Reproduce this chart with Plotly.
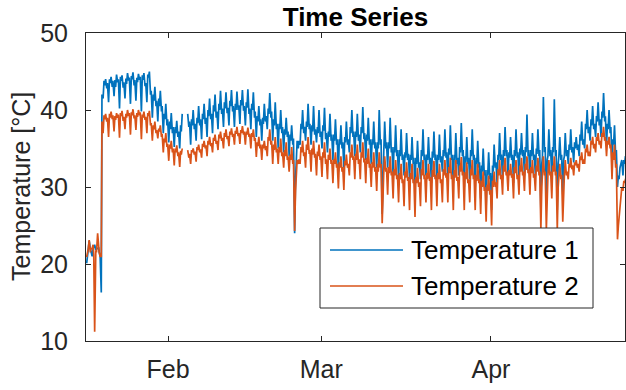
import datetime
import plotly.graph_objects as go

# ---- data: six readings per day ----
start_day = "2019-01-17"
reading_hours = [3, 7, 10, 14, 19, 22]

# Temperature 1
t1_03h = [20.1, 21.0, 22.0, 41.5, 41.0, 41.8, 40.2, 41.5, 40.8, 41.2,
          39.8, 41.0, 39.0, 38.5, 37.0, 35.8, 35.2, 35.0, None, 35.5,
          36.0, 36.2, 36.5, 37.0, 37.5, 37.8, 38.0, 37.8, 38.2, 38.0,
          37.5, 36.5, 36.0, 37.5, 36.0, 35.0, 34.5, 34.0, 24.0, 35.5,
          36.0, 35.5, 35.8, 35.0, 34.5, 33.5, 32.0, 32.5, 34.5, 34.0,
          34.5, 33.5, 33.0, 32.5, 26.5, 32.5, 31.5, 31.0, 31.5, 31.0,
          30.0, 31.0, 31.5, 30.5, 31.0, 32.0, 31.0, 30.5, 31.5, 30.0,
          31.0, 30.0, 28.5, 27.5, 27.0, 30.5, 31.0, 31.5, 30.5, 31.0,
          31.5, 31.0, 31.5, 27.0, 28.0, 31.0, 27.0, 29.0, 33.0, 33.2,
          34.0, 35.0, 36.0, 36.5, 36.5, 35.5, 33.0, 30.0, 31.5]
t1_07h = [21.0, 22.0, 22.2, 43.8, 44.0, 43.9, 44.3, 44.1, 44.4, 44.2,
          44.5, 44.6, 42.0, 41.5, 39.5, 38.5, 37.8, 38.0, None, 38.8,
          39.0, 39.5, 40.0, 40.6, 40.8, 41.0, 41.2, 40.8, 41.3, 41.0,
          40.8, 39.2, 39.0, 40.2, 38.8, 38.2, 37.5, 36.8, 31.0, 38.2,
          38.5, 38.0, 37.8, 38.0, 37.2, 36.8, 36.2, 36.5, 37.8, 37.2,
          37.8, 36.8, 36.2, 35.8, 33.0, 35.8, 35.2, 34.8, 34.5, 34.2,
          33.8, 34.8, 34.2, 34.6, 34.2, 34.8, 35.0, 34.2, 35.2, 34.0,
          34.8, 33.8, 32.8, 32.2, 32.8, 34.2, 34.8, 34.5, 34.8, 35.0,
          35.2, 34.8, 35.0, 33.0, 33.5, 35.2, 33.0, 33.5, 35.5, 35.8,
          36.8, 38.2, 38.8, 39.2, 39.8, 38.2, 36.2, 31.5, 33.5]
t1_10h = [21.5, 22.3, 21.5, 43.2, 43.5, 43.0, 43.8, 43.4, 44.0, 43.6,
          43.9, 44.2, 41.2, 40.5, 38.8, 37.5, 37.0, 37.2, None, 38.0,
          38.3, 38.8, 39.2, 39.8, 40.0, 40.2, 40.5, 40.0, 40.6, 40.3,
          40.0, 38.5, 38.2, 39.5, 38.0, 37.5, 36.8, 36.0, 33.0, 37.5,
          37.8, 37.2, 37.0, 37.3, 36.5, 36.0, 35.5, 35.8, 37.0, 36.5,
          37.0, 36.0, 35.5, 35.0, 34.5, 35.0, 34.5, 34.0, 33.8, 33.5,
          33.0, 34.0, 33.5, 33.8, 33.5, 34.0, 34.2, 33.5, 34.5, 33.2,
          34.0, 33.0, 32.0, 31.5, 32.0, 33.5, 34.0, 33.8, 34.0, 34.2,
          34.5, 34.0, 34.3, 34.0, 34.0, 34.5, 34.0, 34.0, 34.8, 35.0,
          36.0, 37.5, 38.0, 38.5, 39.0, 37.5, 35.5, 31.0, 33.0]
t1_14h = [23.0, 22.5, 21.0, 44.0, 44.3, 44.6, 44.5, 44.8, 44.9, 44.7,
          44.8, 45.0, 43.0, 42.5, 40.8, 39.6, 38.6, 39.5, 39.5, 40.0,
          40.5, 40.8, 41.5, 42.0, 42.5, 42.3, 42.6, 42.4, 42.6, 42.7,
          42.3, 40.5, 40.8, 42.2, 41.0, 40.0, 39.0, 38.0, 36.0, 40.0,
          40.8, 40.5, 40.0, 40.3, 39.5, 38.8, 38.0, 38.5, 40.0, 39.5,
          40.4, 39.0, 38.5, 40.0, 38.5, 39.0, 38.0, 37.5, 37.0, 36.5,
          36.0, 37.5, 36.5, 37.2, 36.8, 37.5, 38.0, 37.0, 38.3, 36.5,
          37.5, 36.0, 35.0, 34.5, 35.5, 37.0, 37.8, 36.5, 37.5, 37.0,
          39.4, 37.0, 37.5, 41.7, 37.5, 41.4, 36.5, 37.0, 37.5, 36.5,
          38.5, 40.0, 40.5, 41.0, 42.2, 40.0, 38.0, 32.5, 34.0]
t1_19h = [22.0, 21.8, 16.3, 42.8, 43.0, 43.6, 42.9, 43.8, 43.2, 43.9,
          43.1, 42.0, 40.5, 39.8, 38.0, 37.0, 36.5, None, 37.8, 37.5,
          38.0, 38.2, 38.8, 39.0, 39.5, 39.6, 39.8, 40.0, 39.9, 39.5,
          39.0, 38.0, 38.5, 39.0, 37.5, 37.0, 36.5, 35.5, 35.0, 37.0,
          37.5, 36.8, 36.5, 36.2, 36.0, 35.5, 35.0, 35.5, 36.5, 36.0,
          36.2, 35.5, 35.0, 35.5, 35.0, 34.5, 34.0, 33.5, 33.5, 33.0,
          32.5, 33.5, 33.0, 33.5, 33.2, 33.8, 33.5, 33.0, 34.0, 33.0,
          33.5, 32.5, 31.5, 31.0, 32.5, 33.5, 34.0, 33.5, 33.8, 34.0,
          34.0, 33.5, 34.0, 34.5, 34.0, 34.0, 33.5, 34.0, 34.5, 34.8,
          35.5, 37.0, 37.5, 38.0, 38.5, 37.0, 34.0, 33.0, 33.5]
t1_22h = [21.5, 22.0, 42.0, 43.5, 43.8, 44.0, 43.6, 44.2, 43.9, 44.3,
          43.5, 42.5, 41.2, 40.5, 38.8, 37.8, 37.2, None, 38.5, 38.2,
          38.8, 39.0, 39.5, 39.8, 40.2, 40.3, 40.5, 40.6, 40.5, 40.2,
          39.8, 38.8, 39.2, 39.8, 38.2, 37.8, 37.2, 36.3, 36.0, 37.8,
          38.2, 37.5, 37.2, 37.0, 36.8, 36.2, 35.8, 36.2, 37.2, 36.8,
          37.0, 36.2, 35.8, 36.2, 35.8, 35.2, 34.8, 34.2, 34.3, 33.8,
          33.2, 34.2, 33.8, 34.2, 34.0, 34.5, 34.2, 33.8, 34.8, 33.8,
          34.2, 33.2, 32.2, 31.8, 33.2, 34.2, 34.8, 34.2, 34.5, 34.8,
          34.8, 34.2, 34.8, 35.2, 34.8, 34.8, 34.2, 34.8, 35.2, 35.5,
          36.2, 37.8, 38.2, 38.8, 39.2, 37.8, 34.8, 33.5, 34.0]

# Temperature 2
t2_03h = [20.9, 22.0, 24.0, 37.0, 36.5, 37.2, 36.4, 37.5, 36.8, 37.4,
          36.2, 37.0, 36.0, 36.3, 34.5, 33.4, 32.8, 32.6, None, 33.0,
          33.3, 33.8, 34.0, 34.5, 34.8, 35.0, 35.3, 35.5, 35.6, 35.5,
          35.0, 33.9, 33.5, 34.0, 33.0, 33.0, 32.5, 32.0, 24.3, 33.0,
          32.5, 32.0, 31.5, 31.3, 31.0, 30.5, 29.8, 29.6, 31.5, 31.0,
          31.0, 30.5, 30.0, 29.5, 25.3, 29.0, 28.5, 28.0, 27.5, 27.0,
          26.1, 27.5, 28.0, 27.0, 27.5, 28.0, 28.0, 27.0, 28.5, 27.0,
          28.0, 27.0, 26.5, 25.5, 25.0, 28.5, 29.0, 29.5, 28.5, 29.0,
          29.5, 29.0, 29.5, 24.5, 24.5, 28.5, 24.5, 25.5, 31.0, 31.5,
          32.0, 33.0, 34.0, 34.5, 35.0, 34.0, 31.0, 23.2, 29.5]
t2_07h = [21.5, 22.5, 22.0, 39.3, 39.5, 39.2, 39.6, 39.5, 39.7, 39.6,
          39.4, 39.6, 38.0, 37.6, 36.3, 35.5, 35.0, 34.7, None, 34.8,
          35.2, 35.6, 36.0, 36.4, 36.8, 37.0, 37.2, 37.3, 37.4, 37.2,
          37.0, 35.8, 35.5, 36.5, 35.5, 35.2, 34.8, 34.2, 29.5, 35.2,
          35.5, 35.0, 34.6, 34.5, 34.2, 33.6, 33.2, 33.4, 34.5, 34.3,
          34.5, 33.8, 33.2, 33.0, 31.0, 32.6, 32.3, 31.8, 32.0, 31.8,
          31.3, 32.3, 31.8, 32.2, 31.8, 32.3, 32.6, 32.2, 32.8, 31.9,
          32.3, 31.6, 30.8, 30.3, 30.8, 32.3, 32.8, 32.2, 32.6, 32.8,
          33.0, 32.6, 32.8, 30.0, 30.5, 32.8, 30.0, 30.5, 33.0, 33.2,
          34.0, 35.0, 36.0, 36.5, 37.0, 36.0, 34.5, 25.0, 30.8]
t2_10h = [22.0, 21.2, 21.5, 38.8, 39.0, 38.7, 39.2, 39.0, 39.3, 39.1,
          39.0, 39.2, 37.5, 37.2, 35.8, 35.0, 34.5, 34.2, None, 34.5,
          34.8, 35.2, 35.5, 36.0, 36.3, 36.5, 36.8, 36.9, 37.0, 36.8,
          36.5, 35.3, 35.0, 36.0, 34.8, 34.5, 34.0, 33.5, 31.0, 34.5,
          34.8, 34.2, 34.0, 33.8, 33.5, 33.0, 32.5, 32.8, 33.8, 33.5,
          33.8, 33.0, 32.5, 32.0, 32.0, 31.8, 31.5, 31.0, 31.2, 31.0,
          30.5, 31.5, 31.0, 31.3, 31.0, 31.5, 31.8, 31.2, 32.0, 31.0,
          31.5, 30.8, 30.0, 29.5, 30.0, 31.5, 32.0, 31.5, 31.8, 32.0,
          32.2, 31.8, 32.0, 31.5, 31.5, 32.0, 31.5, 31.5, 32.5, 32.8,
          33.5, 34.5, 35.5, 36.0, 36.5, 35.5, 33.5, 26.0, 30.5]
t2_14h = [23.1, 11.2, 21.0, 39.5, 39.8, 39.6, 39.9, 40.0, 40.1, 40.0,
          39.8, 39.9, 38.5, 38.0, 37.0, 36.0, 35.4, 35.0, 34.8, 35.0,
          35.5, 36.0, 36.5, 36.8, 37.2, 37.5, 37.6, 37.8, 37.9, 37.7,
          37.5, 36.5, 36.0, 37.5, 36.5, 36.3, 35.8, 35.2, 33.5, 36.0,
          36.5, 36.0, 35.5, 35.8, 35.0, 34.5, 34.0, 34.2, 35.5, 35.5,
          35.8, 35.0, 34.5, 34.5, 34.0, 34.0, 33.5, 33.0, 33.2, 33.0,
          32.5, 33.5, 33.0, 33.4, 33.0, 33.5, 33.8, 33.5, 33.9, 33.2,
          33.5, 33.0, 32.0, 31.5, 32.0, 33.5, 33.8, 33.0, 33.5, 33.8,
          34.0, 33.5, 33.8, 34.0, 33.5, 34.0, 33.0, 33.5, 33.8, 33.5,
          34.5, 35.5, 36.5, 37.0, 37.8, 36.5, 35.5, 28.0, 31.0]
t2_19h = [21.5, 21.8, 21.0, 38.5, 38.8, 39.0, 38.6, 39.2, 38.9, 39.3,
          38.7, 38.0, 37.0, 36.5, 35.2, 34.5, 34.0, None, 33.8, 34.2,
          34.5, 35.0, 35.3, 35.6, 36.0, 36.2, 36.5, 36.6, 36.8, 36.5,
          36.0, 35.0, 34.8, 35.5, 34.5, 34.0, 33.5, 33.0, 33.0, 34.0,
          34.3, 33.8, 33.5, 33.0, 33.0, 32.5, 32.0, 32.5, 33.5, 33.0,
          33.2, 32.5, 32.0, 32.5, 32.0, 31.5, 31.0, 30.5, 30.8, 30.5,
          30.0, 31.0, 30.8, 31.0, 30.5, 31.2, 31.0, 30.8, 31.5, 30.5,
          31.0, 30.5, 29.5, 29.0, 30.0, 31.0, 31.5, 31.2, 31.0, 31.5,
          31.8, 31.2, 31.5, 31.5, 31.5, 31.5, 31.0, 31.5, 32.3, 32.5,
          33.0, 34.0, 35.0, 35.5, 36.0, 35.0, 32.5, 29.5, 31.0]
t2_22h = [22.0, 21.5, 38.5, 39.0, 39.3, 39.4, 39.1, 39.6, 39.3, 39.7,
          39.1, 38.3, 37.4, 36.9, 35.6, 35.0, 34.5, None, 34.3, 34.6,
          34.9, 35.4, 35.7, 36.0, 36.4, 36.6, 36.9, 37.0, 37.2, 36.9,
          36.4, 35.5, 35.3, 36.0, 35.0, 34.5, 34.0, 33.5, 33.6, 34.5,
          34.8, 34.3, 34.0, 33.6, 33.5, 33.0, 32.6, 33.0, 34.0, 33.6,
          33.7, 33.0, 32.6, 33.0, 32.5, 32.0, 31.6, 31.0, 31.3, 31.0,
          30.6, 31.6, 31.3, 31.6, 31.0, 31.8, 31.6, 31.3, 32.0, 31.0,
          31.6, 31.0, 30.0, 29.6, 30.6, 31.6, 32.0, 31.7, 31.6, 32.0,
          32.3, 31.7, 32.0, 32.0, 32.0, 32.0, 31.6, 32.0, 32.8, 33.0,
          33.6, 34.6, 35.6, 36.0, 36.5, 35.5, 33.0, 30.0, 31.3]

series_names = ["Temperature 1", "Temperature 2"]
x_tick_dates = ["2019-02-01", "2019-03-01", "2019-04-01"]
x_tick_labels = ["Feb", "Mar", "Apr"]
y_ticks = [10, 20, 30, 40, 50]

# ---- assemble time series ----
d0 = datetime.datetime.fromisoformat(start_day)
t1_cols = [t1_03h, t1_07h, t1_10h, t1_14h, t1_19h, t1_22h]
t2_cols = [t2_03h, t2_07h, t2_10h, t2_14h, t2_19h, t2_22h]
times, v1, v2 = [], [], []
for d in range(len(t1_03h)):
    for k, h in enumerate(reading_hours):
        times.append(d0 + datetime.timedelta(days=d, hours=h))
        v1.append(t1_cols[k][d])
        v2.append(t2_cols[k][d])

BLUE = "#0072BD"
ORANGE = "#D95319"
AX = "#262626"
FONT = "Liberation Sans, Arial, Helvetica, sans-serif"

fig = go.Figure()
fig.add_trace(go.Scatter(x=times, y=v1, mode="lines", name=series_names[0],
                         line=dict(color=BLUE, width=1.7), connectgaps=False))
fig.add_trace(go.Scatter(x=times, y=v2, mode="lines", name=series_names[1],
                         line=dict(color=ORANGE, width=1.7), connectgaps=False))

# plot area in pixels
L, R, T, B = 86, 625, 33, 341
W, H = 626, 390

def px(x):
    return (x - L) / (R - L)

def py(y):
    return (B - y) / (B - T)

axis_common = dict(showline=True, linecolor=AX, linewidth=1, mirror="ticks",
                   ticks="inside", ticklen=5, tickcolor=AX, showgrid=False,
                   zeroline=False, automargin=False,
                   tickfont=dict(family=FONT, size=25, color=AX))

fig.update_layout(
    width=W, height=H, autosize=False,
    margin=dict(l=L, r=W - R, t=T, b=H - B, autoexpand=False),
    paper_bgcolor="white", plot_bgcolor="white",
    showlegend=False,
    title=dict(text="<b>Time Series</b>", x=0.5, xref="paper", xanchor="center",
               y=1 - 17 / H, yref="container", yanchor="middle",
               font=dict(family=FONT, size=26, color="black")),
    xaxis=dict(type="date", range=["2019-01-17", "2019-04-25 12:00"],
               tickvals=x_tick_dates, ticktext=x_tick_labels,
               ticklabelstandoff=6, **axis_common),
    yaxis=dict(range=[10, 50], tickvals=y_ticks, ticklabelstandoff=12, **axis_common),
)

# y axis title
fig.add_annotation(text="Temperature [°C]", textangle=-90, xref="paper", yref="paper",
                   x=px(21), y=0.5, showarrow=False, xanchor="center", yanchor="middle",
                   font=dict(family=FONT, size=25, color=AX))

# legend box (manual, MATLAB-style)
lx0, lx1, ly0, ly1 = 320, 593, 228, 308
fig.add_shape(type="rect", xref="paper", yref="paper", x0=px(lx0), x1=px(lx1),
              y0=py(ly1), y1=py(ly0), line=dict(color=AX, width=1),
              fillcolor="white", layer="above")
for nm, col, yy in [(series_names[0], BLUE, 250), (series_names[1], ORANGE, 286)]:
    fig.add_shape(type="line", xref="paper", yref="paper", x0=px(330), x1=px(403),
                  y0=py(yy), y1=py(yy), line=dict(color=col, width=1.5), layer="above")
    fig.add_annotation(text=nm, xref="paper", yref="paper", x=px(409), y=py(yy),
                       xanchor="left", yanchor="middle", showarrow=False,
                       font=dict(family=FONT, size=26, color="black"))

fig.write_html(
    "out.html",
    config={"responsive": False, "displayModeBar": False},
    post_script="document.body.style.margin='0px';document.body.style.overflow='hidden';",
)
